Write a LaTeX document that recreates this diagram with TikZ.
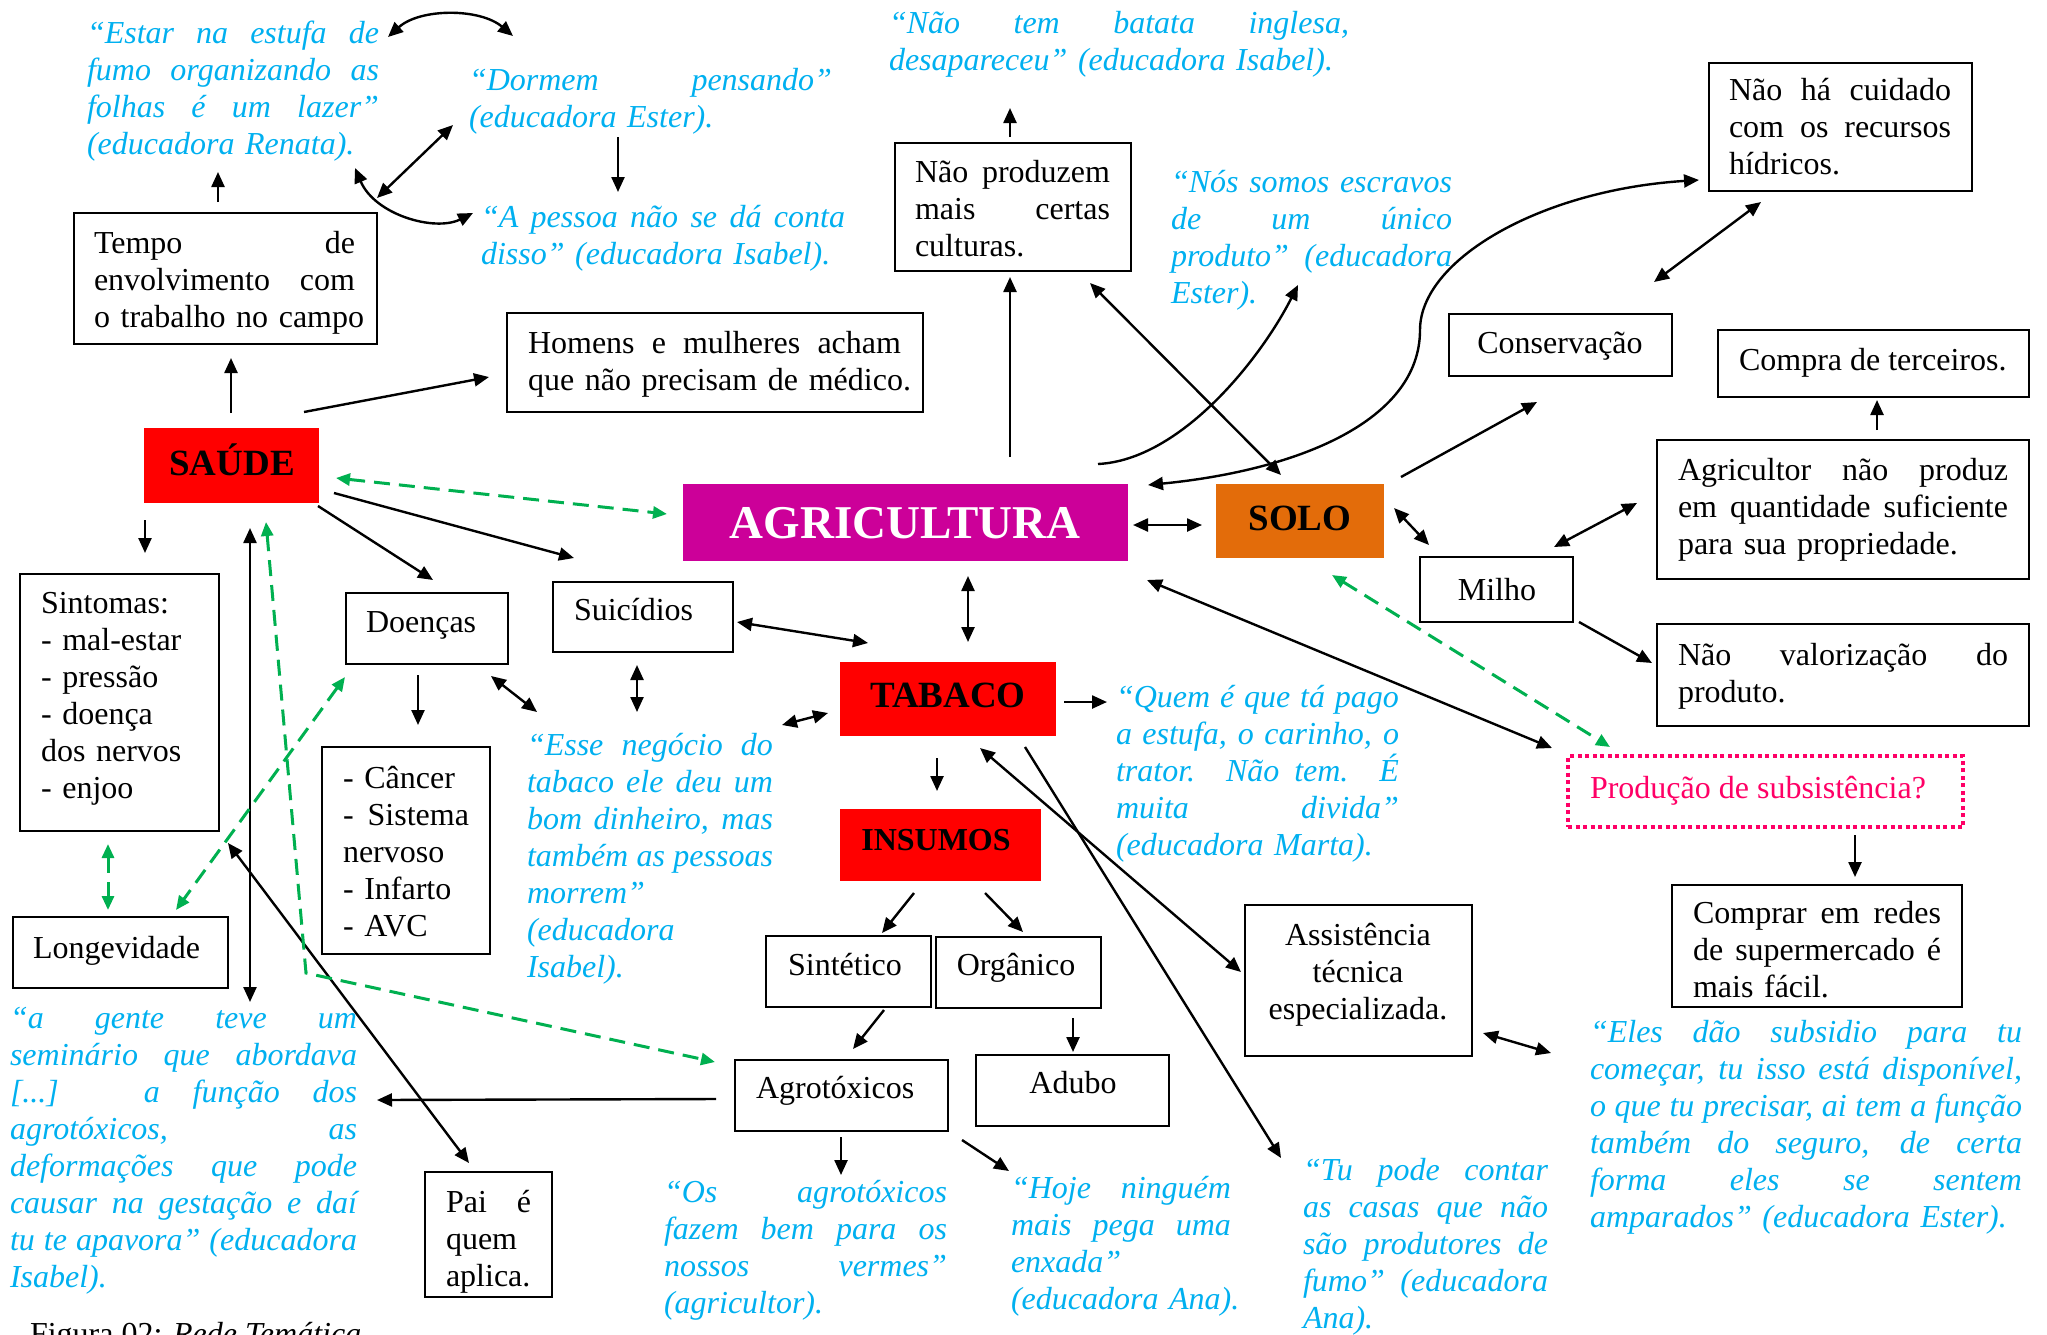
\documentclass[tikz,border=0pt]{standalone}
\usepackage{fontspec}
\setmainfont{Liberation Serif}
\usetikzlibrary{arrows.meta,fit}

\definecolor{qblue}{HTML}{00B0F0}
\definecolor{gdash}{HTML}{00B050}
\definecolor{redbox}{HTML}{FF0000}
\definecolor{magbox}{HTML}{CC0099}
\definecolor{orgbox}{HTML}{E36C0A}
\definecolor{pinkq}{HTML}{FF0066}

\newcommand\jl[1]{{\spaceskip=0pt\xspaceskip=0pt\makebox[\hsize][s]{#1}}}

\tikzset{
  box/.style={draw=black, line width=2.2pt, inner sep=0pt, outer sep=0pt},
  fbox/.style={fill=#1, draw=none, inner sep=0pt, outer sep=0pt},
  txt/.style={anchor=base west, inner sep=0pt, outer sep=0pt, align=left, font=\fontsize{32}{37}\selectfont},
  ctxt/.style={anchor=base, inner sep=0pt, outer sep=0pt, font=\fontsize{32}{37}\selectfont},
  bigb/.style={ctxt, font=\fontsize{37}{40}\selectfont\bfseries},
  qt/.style={txt, text=qblue, font=\fontsize{32}{37}\selectfont\itshape},
  con/.style={line width=2.4pt, -{Triangle[length=15pt,width=13pt]}},
  bicon/.style={line width=2.4pt, {Triangle[length=15pt,width=13pt]}-{Triangle[length=15pt,width=13pt]}},
  gcon/.style={draw=gdash, line width=3pt, dash pattern=on 16pt off 9pt,
    {Triangle[length=14pt,width=12pt]}-{Triangle[length=14pt,width=12pt]}},
}

\begin{document}
\begin{tikzpicture}[x=1pt,y=-1pt]
\clip (0,0) rectangle (2047,1334);
\fill[white] (0,0) rectangle (2047,1334);

% ---------- boxes ----------
\node[box, fit={(74,213) (377,344)}] (tempo) {};
\node[box, fit={(507,313) (923,412)}] (homens) {};
\node[box, fit={(895,143) (1131,271)}] (naoprod) {};
\node[box, fit={(1709,63) (1972,191)}] (naoha) {};
\node[box, fit={(1449,314) (1672,376)}] (conserv) {};
\node[box, fit={(1718,330) (2029,397)}] (compra) {};
\node[fbox=redbox, fit={(144,428) (319,503)}] (saude) {};
\node[fbox=magbox, fit={(683,484) (1128,561)}] (agri) {};
\node[fbox=orgbox, fit={(1216,484) (1384,558)}] (solo) {};
\node[box, fit={(1657,440) (2029,579)}] (agricultor) {};
\node[box, fit={(1420,557) (1573,622)}] (milho) {};
\node[box, fit={(1657,624) (2029,726)}] (naoval) {};
\node[box, fit={(20,574) (219,831)}] (sintomas) {};
\node[box, fit={(346,593) (508,664)}] (doencas) {};
\node[box, fit={(553,582) (733,652)}] (suicidios) {};
\node[fbox=redbox, fit={(840,662) (1056,736)}] (tabaco) {};
\node[draw=pinkq, line width=3.5pt, dash pattern=on 4pt off 3.5pt, inner sep=0pt, fit={(1568,756) (1963,827)}] (producao) {};
\node[box, fit={(322,747) (490,954)}] (cancer) {};
\node[fbox=redbox, fit={(840,809) (1041,881)}] (insumos) {};
\node[box, fit={(766,936) (931,1007)}] (sintetico) {};
\node[box, fit={(936,937) (1101,1008)}] (organico) {};
\node[box, fit={(1245,905) (1472,1056)}] (assist) {};
\node[box, fit={(1672,885) (1962,1007)}] (comprar) {};
\node[box, fit={(13,917) (228,988)}] (longev) {};
\node[box, fit={(735,1060) (948,1131)}] (agrotox) {};
\node[box, fit={(976,1055) (1169,1126)}] (adubo) {};
\node[box, fit={(425,1172) (552,1297)}] (pai) {};

% ---------- texts ----------
\node[qt, text width=292] (q-renata) at (87,43) {\jl{“Estar na estufa de}\\ \jl{fumo organizando as}\\ \jl{folhas é um lazer”}\\ \mbox{(educadora Renata).}};
\node[qt, text width=363] (q-dormem) at (469,90) {\jl{“Dormem pensando”}\\ \mbox{(educadora Ester).}};
\node[qt, text width=364] (q-pessoa) at (481,227) {\jl{“A pessoa não se dá conta}\\ \mbox{disso” (educadora Isabel).}};
\node[qt, text width=460] (q-batata) at (889,33) {\jl{“Não tem batata inglesa,}\\ \mbox{desapareceu” (educadora Isabel).}};
\node[txt, text width=195] (t-naoprod) at (915,182) {\jl{Não produzem}\\ \jl{mais certas}\\ culturas.};
\node[qt, text width=281] (q-nos) at (1171,192) {\jl{“Nós somos escravos}\\ \jl{de um único}\\ \jl{produto” (educadora}\\ Ester).};
\node[txt, text width=222] (t-naoha) at (1729,100) {\jl{Não há cuidado}\\ \jl{com os recursos}\\ hídricos.};
\node[txt, text width=373] (t-homens) at (528,353) {\jl{Homens e mulheres acham}\\ \mbox{que não precisam de médico.}};
\node[txt, text width=261] (t-tempo) at (94,253) {\jl{Tempo de}\\ \jl{envolvimento com}\\ \mbox{o trabalho no campo}};
\node[ctxt] (t-conserv) at (1560,353) {Conservação};
\node[txt] (t-compra) at (1739,370) {Compra de terceiros.};
\node[bigb] (t-saude) at (232,475) {SAÚDE};
\node[ctxt, text=white, font=\fontsize{47}{50}\selectfont\bfseries] (t-agri) at (905,538) {AGRICULTURA};
\node[bigb] (t-solo) at (1300,530) {SOLO};
\node[txt, text width=330] (t-agricultor) at (1678,480) {\jl{Agricultor não produz}\\ \jl{em quantidade suficiente}\\ \mbox{para sua propriedade.}};
\node[ctxt] (t-milho) at (1497,600) {Milho};
\node[txt, text width=330] (t-naoval) at (1678,665) {\jl{Não valorização do}\\ produto.};
\node[txt, text width=170] (t-sintomas) at (41,613) {Sintomas:\\ - mal-estar\\ - pressão\\ - doença\\ dos nervos\\ - enjoo};
\node[txt] (t-doencas) at (366,632) {Doenças};
\node[txt] (t-suicidios) at (574,620) {Suicídios};
\node[bigb] (t-tabaco) at (948,707) {TABACO};
\node[qt, text width=283] (q-quem) at (1116,707) {\jl{“Quem é que tá pago}\\ \jl{a estufa, o carinho, o}\\ \jl{trator. Não tem. É}\\ \jl{muita divida”}\\ \mbox{(educadora Marta).}};
\node[txt, text=pinkq] (t-producao) at (1590,798) {Produção de subsistência?};
\node[txt, text width=126] (t-cancer) at (343,788) {- Câncer\\ \jl{- Sistema}\\ nervoso\\ - Infarto\\ - AVC};
\node[qt, text width=246] (q-esse) at (527,755) {\jl{“Esse negócio do}\\ \jl{tabaco ele deu um}\\ \jl{bom dinheiro, mas}\\ \jl{também as pessoas}\\ morrem”\\ (educadora\\ Isabel).};
\node[ctxt, font=\fontsize{32}{36}\selectfont\bfseries] (t-insumos) at (936,850) {INSUMOS};
\node[ctxt] (t-sintetico) at (845,975) {Sintético};
\node[ctxt] (t-organico) at (1016,975) {Orgânico};
\node[txt, text width=230, align=center, anchor=base] (t-assist) at (1358,945) {Assistência\\ técnica\\ especializada.};
\node[txt, text width=248] (t-comprar) at (1693,923) {\jl{Comprar em redes}\\ \jl{de supermercado é}\\ mais fácil.};
\node[txt] (t-longev) at (33,958) {Longevidade};
\node[qt, text width=347] (q-gente) at (10,1028) {\jl{“a gente teve um}\\ \jl{seminário que abordava}\\ \jl{[...] a função dos}\\ \jl{agrotóxicos, as}\\ \jl{deformações que pode}\\ \jl{causar na gestação e daí}\\ \jl{tu te apavora” (educadora}\\ Isabel).};
\node[txt] (t-agrotox) at (756,1098) {Agrotóxicos};
\node[ctxt] (t-adubo) at (1073,1093) {Adubo};
\node[qt, text width=283] (q-os) at (664,1202) {\jl{“Os agrotóxicos}\\ \jl{fazem bem para os}\\ \jl{nossos vermes”}\\ (agricultor).};
\node[qt, text width=220] (q-hoje) at (1011,1198) {\jl{“Hoje ninguém}\\ \jl{mais pega uma}\\ enxada”\\ \mbox{(educadora Ana).}};
\node[qt, text width=245] (q-tu) at (1303,1180) {\jl{“Tu pode contar}\\ \jl{as casas que não}\\ \jl{são produtores de}\\ \jl{fumo” (educadora}\\ Ana).};
\node[qt, text width=432] (q-eles) at (1590,1042) {\jl{“Eles dão subsidio para tu}\\ \jl{começar, tu isso está disponível,}\\ \jl{o que tu precisar, ai tem a função}\\ \jl{também do seguro, de certa}\\ \jl{forma eles se sentem}\\ \mbox{amparados” (educadora Ester).}};
\node[txt, text width=85] (t-pai) at (446,1212) {\jl{Pai é}\\ quem\\ aplica.};
\node[txt] (caption) at (30,1344) {Figura 02: \textit{Rede Temática}};

% ---------- connector end points ----------
\coordinate (c1a) at (388,37);   \coordinate (c1b) at (513,36);
\coordinate (c2a) at (618,137);  \coordinate (c2b) at (618,192);
\coordinate (c3a) at (377,198);  \coordinate (c3b) at (453,125);
\coordinate (c4a) at (355,168);  \coordinate (c4b) at (473,213);
\coordinate (c5a) at (218,202);  \coordinate (c5b) at (218,172);
\coordinate (c6a) at (231,413);  \coordinate (c6b) at (231,358);
\coordinate (c7a) at (304,412);  \coordinate (c7b) at (489,377);
\coordinate (c8a) at (1010,457); \coordinate (c8b) at (1010,277);
\coordinate (c9a) at (1010,137); \coordinate (c9b) at (1010,108);
\coordinate (c10a) at (1281,475); \coordinate (c10b) at (1090,283);
\coordinate (c11a) at (1098,464); \coordinate (c11b) at (1298,285);
\coordinate (c12a) at (1148,485); \coordinate (c12m) at (1420,330); \coordinate (c12b) at (1699,180);
\coordinate (c13a) at (1401,477); \coordinate (c13b) at (1537,402);
\coordinate (c14a) at (1654,282); \coordinate (c14b) at (1761,202);
\coordinate (c15a) at (1877,430); \coordinate (c15b) at (1877,400);
\coordinate (c16a) at (1133,525); \coordinate (c16b) at (1202,525);
\coordinate (c17a) at (1394,508); \coordinate (c17b) at (1429,545);
\coordinate (c18a) at (1554,547); \coordinate (c18b) at (1637,503);
\coordinate (c19a) at (1579,622); \coordinate (c19b) at (1652,663);
\coordinate (c20a) at (1147,580); \coordinate (c20b) at (1552,748);
\coordinate (c21a) at (1855,835); \coordinate (c21b) at (1855,877);
\coordinate (c22a) at (1483,1033); \coordinate (c22b) at (1551,1053);
\coordinate (c23a) at (1025,747); \coordinate (c23b) at (1281,1158);
\coordinate (c24a) at (980,748);  \coordinate (c24b) at (1241,972);
\coordinate (c25a) at (968,576);  \coordinate (c25b) at (968,642);
\coordinate (c26a) at (737,622);  \coordinate (c26b) at (868,643);
\coordinate (c27a) at (782,725);  \coordinate (c27b) at (828,713);
\coordinate (c28a) at (1064,702); \coordinate (c28b) at (1107,702);
\coordinate (c29a) at (937,758);  \coordinate (c29b) at (937,791);
\coordinate (c30a) at (914,893);  \coordinate (c30b) at (882,933);
\coordinate (c31a) at (985,893);  \coordinate (c31b) at (1023,932);
\coordinate (c32a) at (884,1010); \coordinate (c32b) at (853,1049);
\coordinate (c33a) at (1073,1018); \coordinate (c33b) at (1073,1052);
\coordinate (c34a) at (841,1137); \coordinate (c34b) at (841,1175);
\coordinate (c35a) at (962,1140); \coordinate (c35b) at (1009,1171);
\coordinate (c36a) at (716,1099); \coordinate (c36b) at (377,1100);
\coordinate (c37a) at (145,520);  \coordinate (c37b) at (145,553);
\coordinate (c38a) at (318,506);  \coordinate (c38b) at (433,580);
\coordinate (c39a) at (334,493);  \coordinate (c39b) at (574,558);
\coordinate (c40a) at (250,528);  \coordinate (c40b) at (250,1002);
\coordinate (c41a) at (228,843);  \coordinate (c41b) at (469,1163);
\coordinate (c42a) at (418,675);  \coordinate (c42b) at (418,725);
\coordinate (c43a) at (491,676);  \coordinate (c43b) at (537,712);
\coordinate (c44a) at (637,665);  \coordinate (c44b) at (637,712);
% green
\coordinate (g1a) at (336,478);  \coordinate (g1b) at (667,514);
\coordinate (g2a) at (108,844);  \coordinate (g2b) at (108,910);
\coordinate (g3a) at (345,677);  \coordinate (g3b) at (176,910);
\coordinate (g4a) at (266,522);  \coordinate (g4m) at (306,973); \coordinate (g4b) at (715,1062);
\coordinate (g5a) at (1332,575); \coordinate (g5b) at (1610,747);

% ---------- black connectors ----------
\draw[bicon] (c1a) .. controls (420,8) and (480,8) .. (c1b);
\draw[con] (c2a) -- (c2b);
\draw[bicon] (c3a) -- (c3b);
\draw[bicon] (c4a) .. controls (375,215) and (435,232) .. (c4b);
\draw[con] (c5a) -- (c5b);
\draw[con] (c6a) -- (c6b);
\draw[con] (c7a) -- (c7b);
\draw[con] (c8a) -- (c8b);
\draw[con] (c9a) -- (c9b);
\draw[bicon] (c10a) -- (c10b);
\draw[con] (c11a) .. controls (1180,460) and (1260,360) .. (c11b);
\draw[bicon] (c12a) .. controls (1300,470) and (1420,420) .. (c12m) .. controls (1420,260) and (1540,190) .. (c12b);
\draw[con] (c13a) -- (c13b);
\draw[bicon] (c14a) -- (c14b);
\draw[con] (c15a) -- (c15b);
\draw[bicon] (c16a) -- (c16b);
\draw[bicon] (c17a) -- (c17b);
\draw[bicon] (c18a) -- (c18b);
\draw[con] (c19a) -- (c19b);
\draw[bicon] (c20a) -- (c20b);
\draw[con] (c21a) -- (c21b);
\draw[bicon] (c22a) -- (c22b);
\draw[con] (c23a) -- (c23b);
\draw[bicon] (c24a) -- (c24b);
\draw[bicon] (c25a) -- (c25b);
\draw[bicon] (c26a) -- (c26b);
\draw[bicon] (c27a) -- (c27b);
\draw[con] (c28a) -- (c28b);
\draw[con] (c29a) -- (c29b);
\draw[con] (c30a) -- (c30b);
\draw[con] (c31a) -- (c31b);
\draw[con] (c32a) -- (c32b);
\draw[con] (c33a) -- (c33b);
\draw[con] (c34a) -- (c34b);
\draw[con] (c35a) -- (c35b);
\draw[con] (c36a) -- (c36b);
\draw[con] (c37a) -- (c37b);
\draw[con] (c38a) -- (c38b);
\draw[con] (c39a) -- (c39b);
\draw[bicon] (c40a) -- (c40b);
\draw[bicon] (c41a) -- (c41b);
\draw[con] (c42a) -- (c42b);
\draw[bicon] (c43a) -- (c43b);
\draw[bicon] (c44a) -- (c44b);

% ---------- green dashed connectors ----------
\draw[gcon] (g1a) -- (g1b);
\draw[gcon] (g2a) -- (g2b);
\draw[gcon] (g3a) -- (g3b);
\draw[gcon] (g4a) -- (g4m) -- (g4b);
\draw[gcon] (g5a) -- (g5b);
\end{tikzpicture}
\end{document}
